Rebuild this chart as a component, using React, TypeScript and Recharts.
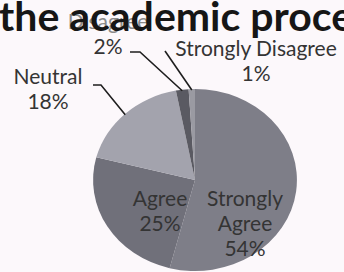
import * as React from "react"
import { Pie, PieChart } from "recharts"

// survey answers
const CATEGORIES = ["Strongly Agree", "Agree", "Neutral", "Disagree", "Strongly Disagree"]
const PERCENTS = [54, 25, 18, 2, 1]
const SLICE_COLORS = ["#7e7e88", "#70707a", "#a3a3ad", "#5a5a62", "#9a9aa2"]
const TITLE = "the academic process"

const WIDTH = 344
const HEIGHT = 272
const CX = 195
const CY = 180
const RADIUS = 91
const X_STRETCH = 1.12
const RAD = Math.PI / 180

const FONT = "Lato, 'Open Sans', sans-serif"
const TEXT = "#343434"
const LINE = "#1e1e1e"

// label placement relative to the pie centre (dx, dy = first text line)
const LABEL_LAYOUT = [
    { inside: true, wrap: true, dx: 50, dy: 17 },
    { inside: true, wrap: false, dx: -35, dy: 17 },
    { inside: false, wrap: false, dx: -147, dy: -105, from: [-102, -95], elbow: [-94, -95] },
    { inside: false, wrap: false, dx: -87, dy: -160, from: [-65, -128], elbow: [-55, -128] },
    { inside: false, wrap: false, dx: 61, dy: -133, from: [-30, -129], elbow: [-30, -129] },
]

const data = CATEGORIES.map((name, i) => ({
    name,
    value: PERCENTS[i],
    fill: SLICE_COLORS[i],
}))

const ellipsePoint = (cx: number, cy: number, r: number, angle: number) => [
    cx + r * X_STRETCH * Math.cos(-angle * RAD),
    cy + r * Math.sin(-angle * RAD),
]

function EllipseSector(props: any) {
    const { cx, cy, outerRadius, startAngle, endAngle, fill } = props
    const [x1, y1] = ellipsePoint(cx, cy, outerRadius, startAngle)
    const [x2, y2] = ellipsePoint(cx, cy, outerRadius, endAngle)
    const large = Math.abs(endAngle - startAngle) > 180 ? 1 : 0
    const sweep = startAngle > endAngle ? 1 : 0
    const d = `M${cx},${cy} L${x1},${y1} A${outerRadius * X_STRETCH},${outerRadius} 0 ${large} ${sweep} ${x2},${y2} Z`
    return <path d={d} fill={fill} stroke="none" />
}

function renderLabel(props: any) {
    const { cx, cy, midAngle, outerRadius, index, name, value } = props
    const lay = LABEL_LAYOUT[index]
    const lines = lay.wrap ? name.split(" ") : [name]
    lines.push(`${value}%`)
    const x = cx + lay.dx
    const y = cy + lay.dy
    let leader = null
    if (!lay.inside) {
        const [ex, ey] = ellipsePoint(cx, cy, outerRadius, midAngle)
        const pts = [
            [cx + lay.from[0], cy + lay.from[1]],
            [cx + lay.elbow[0], cy + lay.elbow[1]],
            [ex, ey + 1],
        ]
        leader = (
            <polyline
                points={pts.map((p) => p.join(",")).join(" ")}
                fill="none"
                stroke={LINE}
                strokeWidth={1.6}
            />
        )
    }
    return (
        <g key={`lbl-${index}`}>
            {leader}
            {lines.map((t: string, i: number) => (
                <text
                    key={i}
                    x={x}
                    y={y + i * 25}
                    textAnchor="middle"
                    dominantBaseline="central"
                    fill={index === 3 && i === 0 ? "#8a8a8a" : TEXT}
                    fontFamily={FONT}
                    fontSize={21}
                >
                    {t}
                </text>
            ))}
        </g>
    )
}

export default function App() {
    return (
        <div
            style={{
                position: "fixed",
                left: 0,
                top: 0,
                width: WIDTH,
                height: HEIGHT,
                overflow: "hidden",
                background: "#fcf8fb",
            }}
        >
            <PieChart width={WIDTH} height={HEIGHT} margin={{ top: 0, right: 0, bottom: 0, left: 0 }}>
                <Pie
                    data={data}
                    dataKey="value"
                    nameKey="name"
                    cx={CX}
                    cy={CY}
                    outerRadius={RADIUS}
                    startAngle={90}
                    endAngle={-270}
                    stroke="none"
                    shape={EllipseSector}
                    inactiveShape={EllipseSector}
                    activeShape={EllipseSector}
                    label={renderLabel}
                    labelLine={false}
                    isAnimationActive={false}
                />
            </PieChart>
            <div
                style={{
                    position: "absolute",
                    left: -1,
                    top: -12,
                    whiteSpace: "nowrap",
                    fontFamily: FONT,
                    fontWeight: 700,
                    fontSize: 41,
                    color: "#161616",
                    lineHeight: "56px",
                }}
            >
                {TITLE}
            </div>
        </div>
    )
}
